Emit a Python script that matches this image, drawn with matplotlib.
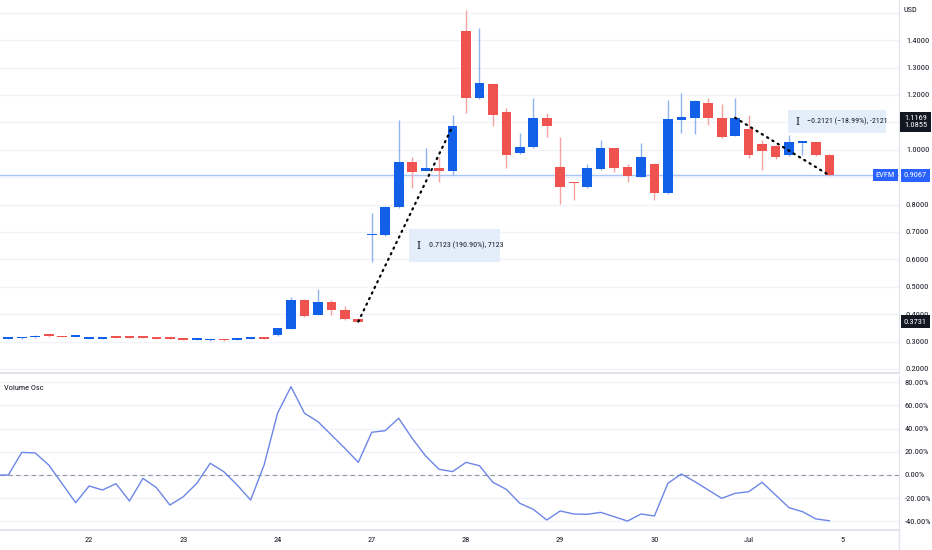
import numpy as np
import matplotlib.pyplot as plt
from matplotlib.patches import Rectangle
from matplotlib.transforms import blended_transform_factory

###############################################################################
# Datos
###############################################################################
opens = [0.309, 0.312, 0.315, 0.326, 0.320, 0.318, 0.310, 0.310, 0.319, 0.317,
         0.317, 0.315, 0.313, 0.312, 0.306, 0.305, 0.309, 0.306, 0.309, 0.313,
         0.323, 0.347, 0.452, 0.398, 0.445, 0.415, 0.384, 0.688, 0.689, 0.790,
         0.957, 0.923, 0.935, 0.924, 1.434, 1.188, 1.239, 1.139, 0.987, 1.009,
         1.117, 0.936, 0.882, 0.863, 0.930, 1.005, 0.936, 0.902, 0.948, 0.841,
         1.109, 1.115, 1.172, 1.117, 1.051, 1.076, 1.021, 1.015, 0.981, 1.025,
         1.027, 0.981]
highs = [0.315, 0.317, 0.325, 0.328, 0.321, 0.320, 0.314, 0.314, 0.320, 0.318,
         0.318, 0.316, 0.314, 0.313, 0.310, 0.309, 0.310, 0.310, 0.314, 0.314,
         0.350, 0.462, 0.455, 0.491, 0.450, 0.430, 0.386, 0.768, 0.795, 1.109,
         0.975, 1.005, 0.972, 1.127, 1.512, 1.443, 1.241, 1.151, 1.060, 1.188,
         1.133, 1.048, 0.883, 0.948, 1.036, 1.007, 0.948, 1.026, 0.950, 1.182,
         1.208, 1.180, 1.188, 1.167, 1.188, 1.127, 1.036, 1.017, 1.054, 1.028,
         1.029, 0.983]
lows = [0.308, 0.311, 0.314, 0.318, 0.315, 0.317, 0.309, 0.309, 0.313, 0.312,
        0.312, 0.310, 0.310, 0.306, 0.305, 0.304, 0.304, 0.305, 0.308, 0.308,
        0.322, 0.346, 0.388, 0.396, 0.397, 0.379, 0.371, 0.592, 0.687, 0.786,
        0.859, 0.921, 0.884, 0.908, 1.133, 1.186, 1.087, 0.932, 0.983, 1.007,
        1.048, 0.802, 0.817, 0.861, 0.928, 0.920, 0.884, 0.900, 0.817, 0.839,
        1.062, 1.057, 1.090, 1.043, 1.049, 0.969, 0.926, 0.966, 0.979, 0.981,
        0.979, 0.905]
closes = [0.315, 0.316, 0.320, 0.320, 0.316, 0.319, 0.313, 0.313, 0.314, 0.313,
          0.313, 0.311, 0.311, 0.307, 0.309, 0.308, 0.305, 0.309, 0.313, 0.310,
          0.349, 0.452, 0.393, 0.443, 0.414, 0.381, 0.3731, 0.693, 0.792, 0.954,
          0.920, 0.935, 0.924, 1.0855, 1.188, 1.245, 1.126, 0.980, 1.011, 1.117,
          1.087, 0.865, 0.878, 0.932, 1.005, 0.935, 0.904, 0.975, 0.841, 1.111,
          1.120, 1.178, 1.115, 1.045, 1.1169, 0.981, 0.996, 0.975, 1.027, 1.028,
          0.981, 0.9067]

# Volume Osc (%), el primer valor es la vela anterior fuera de pantalla
vol_osc = [0.0,
           0.0, 19.5, 19.0, 8.6, -7.5, -23.9, -9.5, -12.9, -7.5, -22.4,
           -2.9, -10.9, -25.9, -18.7, -7.2, 10.1, 2.9, -8.6, -21.6, 8.6,
           53.2, 76.1, 53.2, 46.0, 34.5, 23.0, 10.9, 36.8, 38.2, 48.9,
           31.6, 16.4, 4.9, 2.9, 10.9, 8.0, -6.3, -12.4, -24.4, -29.6,
           -38.8, -31.0, -33.6, -33.9, -32.2, -35.9, -39.7, -33.6, -35.3, -7.2,
           0.9, -5.7, -12.9, -20.1, -15.8, -14.4, -6.3, -17.2, -28.2, -31.6,
           -37.9, -39.4]

day_labels = ['22', '23', '24', '27', '28', '29', '30', 'Jul', '5']
day_index = [6, 13, 20, 27, 34, 41, 48, 55, 62]
price_ticks = [0.2, 0.3, 0.4, 0.5, 0.6, 0.7, 0.8, 0.9, 1.0, 1.1, 1.2, 1.3, 1.4]
hidden_ticks = [0.9, 1.1]   # tapadas por las etiquetas de precio
osc_ticks = [-40, -20, 0, 20, 40, 60, 80]

# mediciones (indices de velas)
med1 = (26, 33)
med2 = (54, 61)
med1_txt = '0.7123 (190.90%), 7123'
med2_txt = '\u22120.2121 (\u221218.99%), -2121'
ticker = 'EVFM'

###############################################################################
AZUL = '#1360E8'
ROJO = '#EF5350'
AZUL_MECHA = '#8FB3F2'
ROJO_MECHA = '#F4A3A1'
GRID = '#F0F3FA'
TXT = '#131722'
FONT = ['Roboto Condensed', 'Liberation Sans Narrow', 'DejaVu Sans']
plt.rcParams['font.family'] = FONT
plt.rcParams['font.stretch'] = 'condensed'
FS = 6

W, H = 932, 550
fig = plt.figure(figsize=(W / 100, H / 100), dpi=100)
ax = fig.add_axes([0, 1 - 373 / H, 899 / W, 373 / H])
ax2 = fig.add_axes([0, 20 / H, 899 / W, 154 / H])

x = np.arange(len(opens))
xmin, xmax = -0.62, 66.17

# ---- precio ----
for yt in price_ticks + [1.5]:
    ax.axhline(yt, color=GRID, lw=1, zorder=0)

o = np.array(opens)
c = np.array(closes)
sube = c >= o
col_body = np.where(sube, AZUL, ROJO)
col_wick = np.where(sube, AZUL_MECHA, ROJO_MECHA)
ax.vlines(x, lows, highs, colors=col_wick, lw=1, zorder=2)
alto = np.maximum(np.abs(c - o), 0.006)
base = np.minimum(o, c)
ax.bar(x, alto, bottom=base, width=0.72, color=col_body, zorder=3)

ax.axhline(closes[-1], color='#A9C5F6', lw=1, zorder=1)

# lineas de medicion
for a, b in (med1, med2):
    ax.plot([a, b], [closes[a], closes[b]], color='black', lw=1.6,
            ls=(0, (0.6, 2.2)), dash_capstyle='round', zorder=5)

def caja(x0, x1, y0, y1, txt):
    ax.add_patch(Rectangle((x0, y0), x1 - x0, y1 - y0, fc='#E4EEFB',
                           ec='none', zorder=4))
    ym = (y0 + y1) / 2
    ax.text(x0 + 0.55, ym, 'I', family='DejaVu Serif', fontsize=8,
            color=TXT, va='center', ha='left', zorder=6)
    ax.text(x0 + 1.45, ym, txt, fontsize=5.7, color=TXT, va='center',
            ha='left', zorder=6)

caja(29.8, 36.5, 0.59, 0.711, med1_txt)
caja(57.9, 65.2, 1.061, 1.145, med2_txt)

ax.set_xlim(xmin, xmax)
ax.set_ylim(0.1854, 1.5467)
ax.set_xticks([])
ax.yaxis.tick_right()
ax.set_yticks(price_ticks)
ax.set_yticklabels(['' if t in hidden_ticks else '{:.4f}'.format(t)
                    for t in price_ticks])
ax.tick_params(axis='y', length=0, pad=5, labelsize=FS, labelcolor=TXT)
for s in ('top', 'left'):
    ax.spines[s].set_visible(False)
ax.spines['right'].set_color('#E0E3EB')
ax.spines['bottom'].set_color('#E0E3EB')
ax.spines['bottom'].set_linewidth(1.5)

tr = blended_transform_factory(ax.transAxes, ax.transData)
xl = 1.0 + 5 / 899
ax.text(xl, 1.510, 'USD', transform=tr, fontsize=FS, color=TXT,
        va='center', ha='left', clip_on=False)
ax.text(xl, (closes[54] + closes[33]) / 2 + 0.002,
        '{:.4f}\n{:.4f}'.format(closes[54], closes[33]), transform=tr,
        fontsize=FS, color='white', va='center', ha='left', linespacing=1.1,
        bbox=dict(boxstyle='square,pad=0.45', fc=TXT, ec='none'),
        clip_on=False, zorder=10)
ax.text(xl, closes[26], '{:.4f}'.format(closes[26]), transform=tr,
        fontsize=FS, color='white', va='center', ha='left',
        bbox=dict(boxstyle='square,pad=0.4', fc=TXT, ec='none'),
        clip_on=False, zorder=10)
ax.text(xl, closes[-1], '{:.4f}'.format(closes[-1]), transform=tr,
        fontsize=FS, color='white', va='center', ha='left',
        bbox=dict(boxstyle='square,pad=0.4', fc='#2962FF', ec='none'),
        clip_on=False, zorder=10)
ax.text(1.0 - 4 / 899, closes[-1], ticker, transform=tr,
        fontsize=FS, color='white', va='center', ha='right',
        bbox=dict(boxstyle='square,pad=0.35', fc='#2962FF', ec='none'),
        clip_on=False, zorder=10)

# ---- Volume Osc ----
for yt in osc_ticks:
    ax2.axhline(yt, color=GRID, lw=1, zorder=0)
ax2.axhline(0, color='#9598A1', lw=0.8, ls=(0, (4, 3)), zorder=1)
ax2.plot(np.arange(-1, len(vol_osc) - 1), vol_osc, color='#6C86E6', lw=1,
         zorder=3)
ax2.set_xlim(xmin, xmax)
ax2.set_ylim(-47.4, 85.3)
ax2.yaxis.tick_right()
ax2.set_yticks(osc_ticks)
ax2.set_yticklabels(['{:.2f}%'.format(t) for t in osc_ticks])
ax2.tick_params(axis='y', length=0, pad=4, labelsize=FS, labelcolor=TXT)
ax2.set_xticks(day_index)
ax2.set_xticklabels(day_labels)
ax2.tick_params(axis='x', length=0, pad=5, labelsize=FS, labelcolor=TXT)
for s in ('left', 'top'):
    ax2.spines[s].set_visible(False)
ax2.spines['right'].set_color('#E0E3EB')
ax2.spines['bottom'].set_color('#E0E3EB')
ax2.spines['bottom'].set_linewidth(1.5)
ax2.text(4 / 899, 1 - 12 / 154, 'Volume Osc', transform=ax2.transAxes,
         fontsize=FS, color=TXT, va='center', ha='left')

# separador vertical hasta abajo
fig.add_artist(plt.Line2D([899 / W, 899 / W], [0, 20 / H], color='#E0E3EB',
                          lw=1))

fig.savefig('out.png', dpi=100, facecolor='white')
